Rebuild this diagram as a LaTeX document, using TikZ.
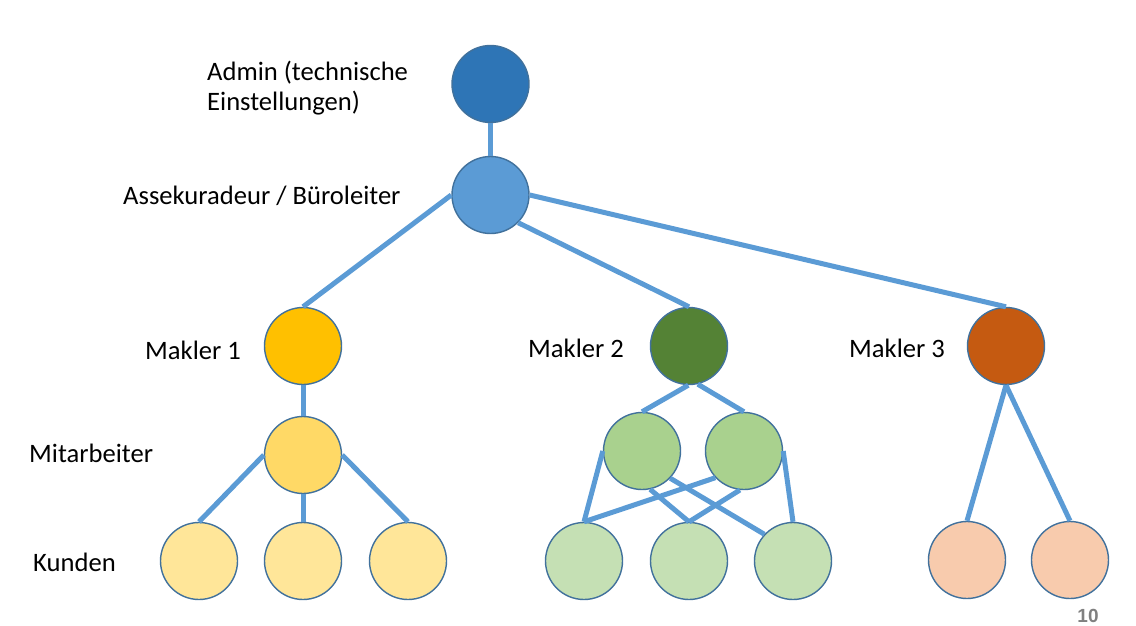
\documentclass[tikz,border=0pt]{standalone}
\usepackage{fontspec}
\setmainfont{Carlito}
\newfontfamily\pagefont{Liberation Sans}
\usetikzlibrary{positioning,calc}
\definecolor{LineBlue}{RGB}{91,155,213}
\definecolor{RimBlue}{RGB}{65,113,156}
\definecolor{AdminBlue}{RGB}{46,117,182}
\definecolor{ChefBlue}{RGB}{91,155,213}
\definecolor{GoldA}{RGB}{255,192,0}
\definecolor{GoldB}{RGB}{255,217,102}
\definecolor{GoldC}{RGB}{255,230,153}
\definecolor{LeafA}{RGB}{84,130,53}
\definecolor{LeafB}{RGB}{169,209,142}
\definecolor{LeafC}{RGB}{197,224,180}
\definecolor{RustA}{RGB}{197,90,17}
\definecolor{RustC}{RGB}{248,203,173}
\definecolor{PageGray}{RGB}{128,128,128}
\tikzset{
  person/.style={circle,draw=RimBlue,line width=1.4pt,inner sep=0pt,minimum size=77pt},
  link/.style={draw=LineBlue,line width=5pt},
  lab/.style={inner sep=0pt,anchor=west,font=\fontsize{26.6}{30}\selectfont,align=left},
}

\begin{document}
\begin{tikzpicture}[x=1pt,y=-1pt]
\useasboundingbox (0,0) rectangle (1136,626);
% top of the tree
\node[person,fill=AdminBlue] (admin) at (490.5,84) {};
\node[person,fill=ChefBlue] (chef) at (490.5,195) {};
% makler
\node[person,fill=GoldA] (mk1) at (303,346) {};
\node[person,fill=LeafA] (mk2) at (689,346) {};
\node[person,fill=RustA] (mk3) at (1006,346) {};
% mitarbeiter
\node[person,fill=GoldB] (ma1) at (303,455) {};
\node[person,fill=LeafB] (ma2) at (642,451) {};
\node[person,fill=LeafB] (ma3) at (744,451) {};
% kunden
\node[person,fill=GoldC] (ku1) at (199,561) {};
\node[person,fill=GoldC] (ku2) at (303,561) {};
\node[person,fill=GoldC] (ku3) at (408,561) {};
\node[person,fill=LeafC] (ku4) at (584,561) {};
\node[person,fill=LeafC] (ku5) at (689,561) {};
\node[person,fill=LeafC] (ku6) at (793,561) {};
\node[person,fill=RustC] (ku7) at (967,560) {};
\node[person,fill=RustC] (ku8) at (1070,560) {};
% links
\draw[link] (admin.south)--(chef.north);
\draw[link] (chef.west)--(mk1.north);
\draw[link] (chef.-45)--(mk2.north);
\draw[link] (chef.east)--(mk3.north);
\draw[link] (mk1.south)--(ma1.north);
\draw[link] (ma1.west)--(ku1.north);
\draw[link] (ma1.south)--(ku2.north);
\draw[link] (ma1.east)--(ku3.north);
\draw[link] (mk2.-91)--(ma2.north);
\draw[link] (mk2.-77)--(ma3.north);
\draw[link] (ma2.west)--(ku4.north);
\draw[link] (ma2.-78)--(ku5.north);
\draw[link] (ma2.-44)--(ku6.137);
\draw[link] (ma3.-137)--(ku4.north);
\draw[link] (ma3.-96)--(ku5.north);
\draw[link] (ma3.east)--(ku6.north);
\draw[link] (mk3.south)--(ku7.north);
\draw[link] (mk3.south)--(ku8.north);
% labels
\node[lab] (tadmin) at (207,88) {Admin (technische\\Einstellungen)};
\node[lab] (tchef) at (123,196) {Assekuradeur / Büroleiter};
\node[lab] (tmk1) at (145,350) {Makler 1};
\node[lab] (tmk2) at (528,348) {Makler 2};
\node[lab] (tmk3) at (849,348) {Makler 3};
\node[lab] (tma) at (29,453) {Mitarbeiter};
\node[lab] (tku) at (33,562) {Kunden};
\node[inner sep=0pt,text=PageGray,font=\pagefont\bfseries\fontsize{19}{22}\selectfont] (page) at (1088,616) {10};
\end{tikzpicture}
\end{document}
